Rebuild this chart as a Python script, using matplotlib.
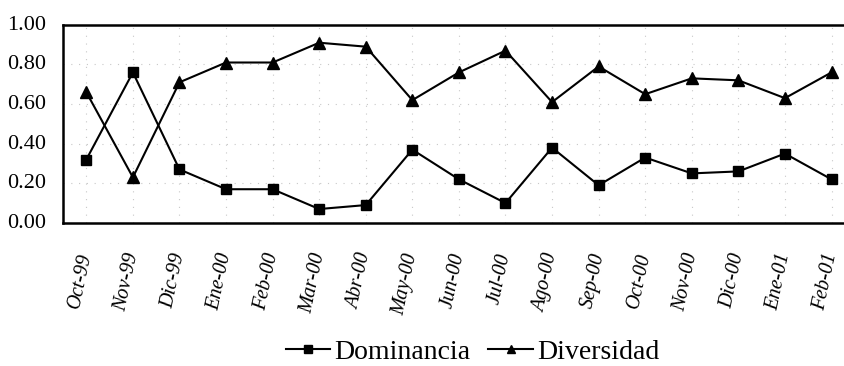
import matplotlib
matplotlib.use('Agg')
import matplotlib.pyplot as plt
import matplotlib.transforms as mtransforms

meses = ['Oct-99', 'Nov-99', 'Dic-99', 'Ene-00', 'Feb-00', 'Mar-00', 'Abr-00',
         'May-00', 'Jun-00', 'Jul-00', 'Ago-00', 'Sep-00', 'Oct-00', 'Nov-00',
         'Dic-00', 'Ene-01', 'Feb-01']
dominancia = [0.32, 0.76, 0.27, 0.17, 0.17, 0.07, 0.09, 0.37, 0.22, 0.10,
              0.38, 0.19, 0.33, 0.25, 0.26, 0.35, 0.22]
diversidad = [0.66, 0.23, 0.71, 0.81, 0.81, 0.91, 0.89, 0.62, 0.76, 0.87,
              0.61, 0.79, 0.65, 0.73, 0.72, 0.63, 0.76]
yticks = [0.0, 0.2, 0.4, 0.6, 0.8, 1.0]

plt.rcParams['font.family'] = ['Liberation Serif', 'DejaVu Serif']

fig = plt.figure(figsize=(8.45, 3.66), dpi=100)
ax = fig.add_axes([0.0746, 0.391, 0.937, 0.541])

x = range(len(meses))
ax.plot(x, dominancia, color='black', lw=1.5, marker='s', ms=7, label='Dominancia')
ax.plot(x, diversidad, color='black', lw=1.5, marker='^', ms=8, label='Diversidad')

ax.set_xlim(-0.5, len(meses) - 0.5)
ax.set_ylim(0, 1.0)
ax.set_yticks(yticks)
ax.set_yticklabels(['%.2f' % v for v in yticks], fontsize=16)
ax.set_xticks(list(x))
ax.set_xticklabels(meses, rotation=78, ha='right', va='center',
                   rotation_mode='anchor', fontsize=14.5, fontstyle='italic')
ax.tick_params(length=0)
ax.tick_params(axis='y', pad=12)
ax.tick_params(axis='x', pad=22)
# y labels sit a little above their gridlines in the original
shift = mtransforms.ScaledTranslation(0, 2 / 100, fig.dpi_scale_trans)
for lab in ax.get_yticklabels():
    lab.set_transform(lab.get_transform() + shift)
ax.grid(True, color='#c8c8c8', linestyle=(0, (1, 6)), lw=0.8)
for s in ax.spines.values():
    s.set_linewidth(1.8)

fig.legend(loc='center', bbox_to_anchor=(0.559, 0.038), ncol=2, frameon=False,
           fontsize=20, handlelength=1.6, handletextpad=0.15, columnspacing=0.65,
           markerscale=0.75)

fig.savefig('out.png', dpi=100)
